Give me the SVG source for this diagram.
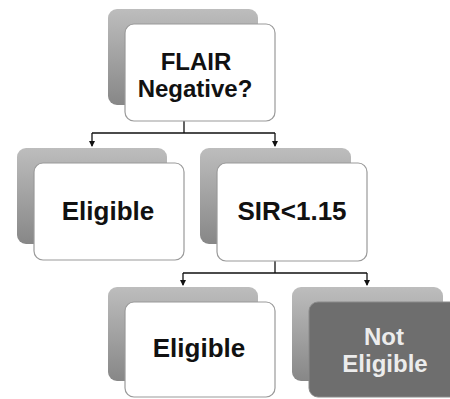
<svg xmlns="http://www.w3.org/2000/svg" width="450" height="399" viewBox="0 0 450 399">
<defs>
<linearGradient id="backGrad" x1="0" y1="0" x2="0" y2="1">
<stop offset="0" stop-color="#bdbdbd"/>
<stop offset="1" stop-color="#878787"/>
</linearGradient>
<marker id="arrow" viewBox="0 0 6 6" refX="5" refY="3" markerWidth="6" markerHeight="6" markerUnits="userSpaceOnUse" orient="auto">
<path d="M0,0 L6,3 L0,6 Z" fill="#111"/>
</marker>
<style>
.back{fill:url(#backGrad);}
.front{fill:#ffffff;stroke:#9a9a9a;stroke-width:1.2;}
.dark{fill:#6e6e6e;stroke:#8a8a8a;stroke-width:1;}
.lbl{font-family:"Liberation Sans",Arial,sans-serif;font-weight:bold;fill:#111;text-anchor:middle;}
.lblw{font-family:"Liberation Sans",Arial,sans-serif;font-weight:bold;fill:#ececec;text-anchor:middle;}
.conn{fill:none;stroke:#111;stroke-width:1.3;}
</style>
</defs>
<rect width="450" height="399" fill="#ffffff"/>
<g id="connectors">
<path class="conn" d="M184,121 V133 M92,133 H275"/>
<path class="conn" d="M92,133 V146" marker-end="url(#arrow)"/>
<path class="conn" d="M275,133 V146" marker-end="url(#arrow)"/>
<path class="conn" d="M275,261 V273 M183,273 H367"/>
<path class="conn" d="M183,273 V285" marker-end="url(#arrow)"/>
<path class="conn" d="M367,273 V285" marker-end="url(#arrow)"/>
</g>
<g id="node-flair">
<rect class="back" x="108" y="9" width="150" height="96" rx="9"/>
<rect class="front" x="125" y="24" width="150" height="97" rx="9"/>
<text class="lbl" x="196" y="70" font-size="24">FLAIR</text>
<text class="lbl" x="195" y="97" font-size="24">Negative?</text>
</g>
<g id="node-eligible-1">
<rect class="back" x="17" y="148" width="150" height="96" rx="9"/>
<rect class="front" x="34" y="163" width="150" height="97" rx="9"/>
<text class="lbl" x="108" y="220" font-size="26">Eligible</text>
</g>
<g id="node-sir">
<rect class="back" x="200" y="148" width="151" height="96" rx="9"/>
<rect class="front" x="217" y="163" width="150" height="98" rx="9"/>
<text class="lbl" x="292" y="220" font-size="26">SIR&lt;1.15</text>
</g>
<g id="node-eligible-2">
<rect class="back" x="108" y="287" width="150" height="94" rx="9"/>
<rect class="front" x="125" y="302" width="150" height="95" rx="9"/>
<text class="lbl" x="199" y="357" font-size="26">Eligible</text>
</g>
<g id="node-not-eligible">
<rect class="back" x="292" y="287" width="151" height="94" rx="9"/>
<rect class="dark" x="309" y="302" width="150" height="95" rx="9"/>
<text class="lblw" x="384" y="345" font-size="24">Not</text>
<text class="lblw" x="385" y="372" font-size="24">Eligible</text>
</g>
</svg>
